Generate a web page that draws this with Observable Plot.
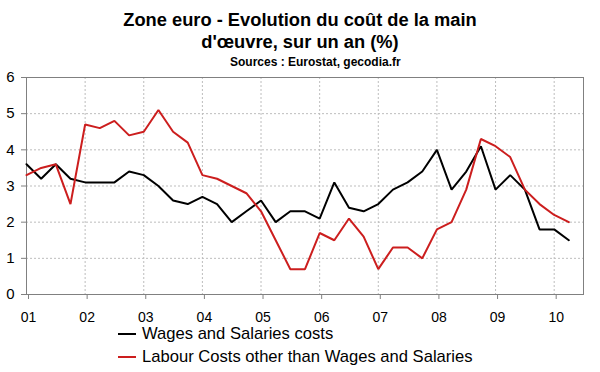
<!DOCTYPE html>
<html><head><meta charset="utf-8">
<script src="https://cdn.jsdelivr.net/npm/d3@7"></script>
<script src="https://cdn.jsdelivr.net/npm/@observablehq/plot@0.6"></script>
<style>
body{margin:0;background:#fff;font-family:"Liberation Sans",Arial,sans-serif}
#wrap{position:relative;width:600px;height:372px;overflow:hidden;background:#fff}
.t{position:absolute;font-weight:bold;white-space:nowrap;color:#000}
.lg{position:absolute;left:118px;font-size:16.6px;white-space:nowrap;color:#000;display:flex;align-items:center}
.lg span.sw{display:inline-block;width:18px;height:2px;margin-right:6px}
</style></head><body><div id="wrap">
<div id="chart" style="position:absolute;left:0;top:0"></div>
<div class="t" style="left:0;width:600px;text-align:center;top:9px;font-size:18.3px;line-height:22px">Zone euro - Evolution du coût de la main<br>d'œuvre, sur un an (%)</div>
<div class="t" style="left:230px;top:55px;font-size:12px">Sources : Eurostat, gecodia.fr</div>
<div class="lg" style="top:324px"><span class="sw" style="background:#000"></span>Wages and Salaries costs</div>
<div class="lg" style="top:347px"><span class="sw" style="background:#cc1e1e"></span>Labour Costs other than Wages and Salaries</div>
</div>
<script>
const quarters = [
"2001-Q1","2001-Q2","2001-Q3","2001-Q4","2002-Q1","2002-Q2","2002-Q3","2002-Q4",
"2003-Q1","2003-Q2","2003-Q3","2003-Q4","2004-Q1","2004-Q2","2004-Q3","2004-Q4",
"2005-Q1","2005-Q2","2005-Q3","2005-Q4","2006-Q1","2006-Q2","2006-Q3","2006-Q4",
"2007-Q1","2007-Q2","2007-Q3","2007-Q4","2008-Q1","2008-Q2","2008-Q3","2008-Q4",
"2009-Q1","2009-Q2","2009-Q3","2009-Q4","2010-Q1","2010-Q2"];
const wages = [3.6,3.2,3.6,3.2,3.1,3.1,3.1,3.4,3.3,3.0,2.6,2.5,2.7,2.5,2.0,2.3,2.6,2.0,2.3,2.3,2.1,3.1,2.4,2.3,2.5,2.9,3.1,3.4,4.0,2.9,3.4,4.1,2.9,3.3,2.9,1.8,1.8,1.5];
const otherCosts = [3.3,3.5,3.6,2.5,4.7,4.6,4.8,4.4,4.5,5.1,4.5,4.2,3.3,3.2,3.0,2.8,2.3,1.5,0.7,0.7,1.7,1.5,2.1,1.6,0.7,1.3,1.3,1.0,1.8,2.0,2.9,4.3,4.1,3.8,2.9,2.5,2.2,2.0];
const seriesNames = ["Wages and Salaries costs","Labour Costs other than Wages and Salaries"];
const seriesColors = ["#000000","#cc1e1e"];
const yearTicks = [2001,2002,2003,2004,2005,2006,2007,2008,2009,2010];
const yearLabels = ["01","02","03","04","05","06","07","08","09","10"];
const yTicks = [0,1,2,3,4,5,6];

const toT = q => { const [y, qq] = q.split("-Q"); return +y + (+qq - 1) / 4; };
const rows = [];
quarters.forEach((q, i) => {
  rows.push({t: toT(q), v: wages[i], s: seriesNames[0]});
  rows.push({t: toT(q), v: otherCosts[i], s: seriesNames[1]});
});
const yearFmt = d => yearLabels[yearTicks.indexOf(d)];

const chart = Plot.plot({
  width: 600, height: 372,
  marginTop: 77, marginBottom: 78, marginLeft: 26, marginRight: 17,
  style: {fontFamily: '"Liberation Sans", Arial, sans-serif', background: "transparent", color: "#000"},
  x: {domain: [2001, 2010.5], ticks: yearTicks, tickFormat: yearFmt},
  y: {domain: [0, 6], ticks: yTicks},
  color: {domain: seriesNames, range: seriesColors},
  marks: [
    Plot.gridX(yearTicks, {stroke: "#bdbdbd", strokeOpacity: 1, strokeDasharray: "2,2"}),
    Plot.gridY(yTicks, {stroke: "#bdbdbd", strokeOpacity: 1, strokeDasharray: "2,2"}),
    Plot.frame({stroke: "#808080"}),
    Plot.axisX(yearTicks, {tickSize: 5, tickPadding: 13, fontSize: 14, stroke: "#808080", label: null, dx: 2, tickFormat: yearFmt}),
    Plot.axisY(yTicks, {tickSize: 5, tickPadding: 7, fontSize: 15, stroke: "#808080", label: null}),
    Plot.line(rows, {x: "t", y: "v", z: "s", stroke: "s", strokeWidth: 2, strokeLinejoin: "miter"})
  ]
});
document.getElementById("chart").appendChild(chart);
</script>
</body></html>
